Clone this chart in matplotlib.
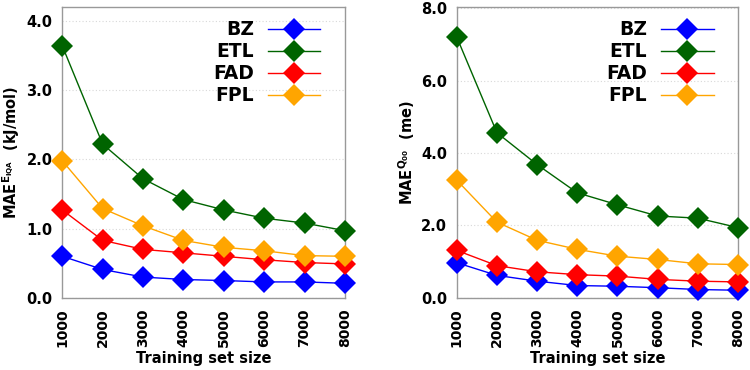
import matplotlib
matplotlib.use("Agg")
import matplotlib.pyplot as plt

sizes = [1000, 2000, 3000, 4000, 5000, 6000, 7000, 8000]
series_names = ["BZ", "ETL", "FAD", "FPL"]
colors = ["#0000ff", "#006400", "#ff0000", "#ffa500"]

e_bz = [0.60, 0.41, 0.30, 0.265, 0.25, 0.23, 0.23, 0.21]
e_etl = [3.64, 2.22, 1.72, 1.42, 1.27, 1.15, 1.08, 0.97]
e_fad = [1.27, 0.83, 0.70, 0.65, 0.60, 0.55, 0.51, 0.49]
e_fpl = [1.98, 1.29, 1.04, 0.83, 0.73, 0.68, 0.61, 0.60]

q_bz = [0.97, 0.62, 0.46, 0.34, 0.32, 0.28, 0.23, 0.21]
q_etl = [7.20, 4.56, 3.68, 2.90, 2.57, 2.26, 2.20, 1.94]
q_fad = [1.31, 0.89, 0.72, 0.64, 0.60, 0.51, 0.46, 0.44]
q_fpl = [3.25, 2.09, 1.59, 1.34, 1.15, 1.06, 0.94, 0.92]

e_ticks = [0.0, 1.0, 2.0, 3.0, 4.0]
q_ticks = [0.0, 2.0, 4.0, 6.0, 8.0]

fig = plt.figure(figsize=(7.5, 3.7), dpi=100)
ax1 = fig.add_axes([0.083, 0.195, 0.377, 0.786])
ax2 = fig.add_axes([0.609, 0.195, 0.375, 0.786])

panels = [
    (ax1, [e_bz, e_etl, e_fad, e_fpl], e_ticks, 4.2,
     r"MAE$^{\mathbf{E_{IQA}}}$  (kJ/mol)"),
    (ax2, [q_bz, q_etl, q_fad, q_fpl], q_ticks, 8.03,
     r"MAE$^{\mathbf{Q_{00}}}$  (me)"),
]

for ax, data, ticks, ymax, ylab in panels:
    for name, vals, c in zip(series_names, data, colors):
        ax.plot(sizes, vals, color=c, lw=1.0, marker="D", markersize=11.5,
                markeredgewidth=0, label=name, clip_on=False, zorder=3)
    ax.set_xlim(1000, 8000)
    ax.set_ylim(0, ymax)
    ax.set_xticks(sizes)
    ax.set_xticklabels([str(s) for s in sizes], rotation=90,
                       fontsize=10, fontweight="bold")
    ax.set_yticks(ticks)
    ax.set_yticklabels([f"{t:.1f}" for t in ticks], fontsize=10.5,
                       fontweight="bold")
    ax.tick_params(axis="x", length=0, pad=7.5)
    ax.tick_params(axis="y", length=0, pad=7)
    ax.yaxis.grid(True, linestyle=(0, (1, 2)), color="#d8d8d8", lw=0.8)
    ax.set_axisbelow(True)
    for sp in ax.spines.values():
        sp.set_color("#999999")
        sp.set_linewidth(1.0)
    ax.set_xlabel("Training set size", fontsize=10.5, fontweight="bold",
                  labelpad=3)
    ax.set_ylabel(ylab, fontsize=10.5, fontweight="bold", labelpad=3)
    leg = ax.legend(loc="upper right", bbox_to_anchor=(0.973, 1.012),
                    frameon=False, markerfirst=False, handlelength=2.8,
                    handletextpad=0.75, labelspacing=0.16,
                    prop={"size": 13.5, "weight": "bold"})

fig.savefig("out.png", dpi=100)
